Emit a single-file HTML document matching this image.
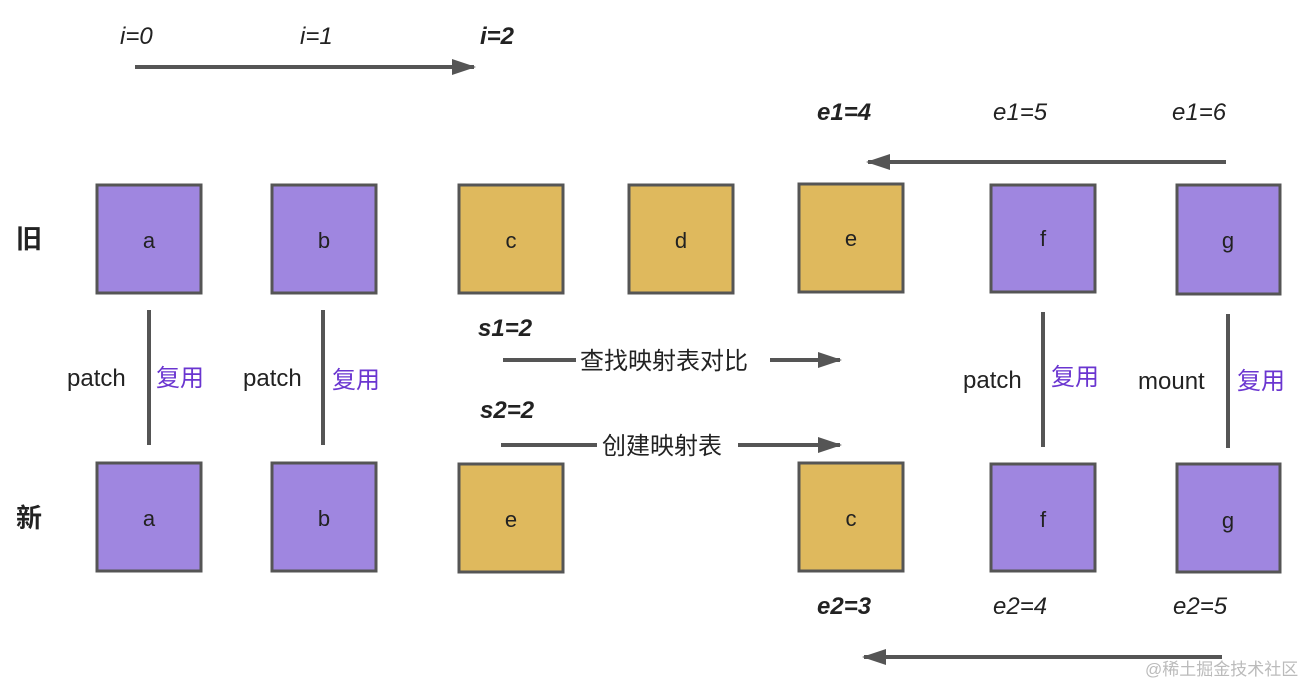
<!DOCTYPE html>
<html><head><meta charset="utf-8"><style>
html,body{margin:0;padding:0;background:#fff}
svg text{font-family:"Liberation Sans","Noto Sans CJK SC",sans-serif}
</style></head><body>
<svg width="1311" height="686" viewBox="0 0 1311 686" xmlns="http://www.w3.org/2000/svg">
<defs><marker id="ah" markerWidth="12" markerHeight="12" refX="10" refY="6" orient="auto" markerUnits="userSpaceOnUse"><path d="M0,0 L22,6 L0,12 Z" fill="#555" transform="scale(0.55,1)"/></marker>
<marker id="a2" markerWidth="24" markerHeight="16" refX="22" refY="8" orient="auto" markerUnits="userSpaceOnUse"><path d="M0,0 L24,8 L0,16 Z" fill="#555"/></marker></defs>
<g fill="#222" font-size="24" font-style="italic">
<text x="120" y="44">i=0</text><text x="300" y="44">i=1</text><text x="480" y="44" font-weight="bold">i=2</text>
<text x="817" y="120" font-weight="bold">e1=4</text><text x="993" y="120">e1=5</text><text x="1172" y="120">e1=6</text>
<text x="478" y="336" font-weight="bold">s1=2</text><text x="480" y="418" font-weight="bold">s2=2</text>
<text x="817" y="614" font-weight="bold">e2=3</text><text x="993" y="614">e2=4</text><text x="1173" y="614">e2=5</text>
</g>
<g stroke="#555" stroke-width="4" fill="none">
<line x1="135" y1="67" x2="474" y2="67" marker-end="url(#a2)" stroke-width="4"/>
<line x1="1226" y1="162" x2="868" y2="162" marker-end="url(#a2)"/>
<line x1="503" y1="360" x2="576" y2="360"/><line x1="770" y1="360" x2="840" y2="360" marker-end="url(#a2)"/>
<line x1="501" y1="445" x2="597" y2="445"/><line x1="738" y1="445" x2="840" y2="445" marker-end="url(#a2)"/>
<line x1="1222" y1="657" x2="864" y2="657" marker-end="url(#a2)"/>
<line x1="149" y1="310" x2="149" y2="445"/><line x1="323" y1="310" x2="323" y2="445"/>
<line x1="1043" y1="312" x2="1043" y2="447"/><line x1="1228" y1="314" x2="1228" y2="448"/>
</g>
<g font-size="24" fill="#222">
<text x="580" y="369">查找映射表对比</text><text x="602" y="454">创建映射表</text>
<text x="67" y="386">patch</text><text x="243" y="386">patch</text><text x="963" y="388">patch</text><text x="1138" y="389">mount</text>
</g>
<g font-size="24" fill="#6a35d0"><text x="156" y="386">复用</text><text x="332" y="388">复用</text><text x="1051" y="385">复用</text><text x="1237" y="389">复用</text></g>
<g font-size="26" font-weight="bold" fill="#222"><text x="16" y="248">旧</text><text x="16" y="527">新</text></g>
<g stroke="#555" stroke-width="3">
<rect x="97" y="185" width="104" height="108" fill="#9f86e0"/>
<rect x="272" y="185" width="104" height="108" fill="#9f86e0"/>
<rect x="459" y="185" width="104" height="108" fill="#dfb95d"/>
<rect x="629" y="185" width="104" height="108" fill="#dfb95d"/>
<rect x="799" y="184" width="104" height="108" fill="#dfb95d"/>
<rect x="991" y="185" width="104" height="107" fill="#9f86e0"/>
<rect x="1177" y="185" width="103" height="109" fill="#9f86e0"/>
<rect x="97" y="463" width="104" height="108" fill="#9f86e0"/>
<rect x="272" y="463" width="104" height="108" fill="#9f86e0"/>
<rect x="459" y="464" width="104" height="108" fill="#dfb95d"/>
<rect x="799" y="463" width="104" height="108" fill="#dfb95d"/>
<rect x="991" y="464" width="104" height="107" fill="#9f86e0"/>
<rect x="1177" y="464" width="103" height="108" fill="#9f86e0"/>
</g>
<g font-size="22" fill="#222" text-anchor="middle">
<text x="149" y="248">a</text><text x="324" y="248">b</text><text x="511" y="248">c</text><text x="681" y="248">d</text><text x="851" y="246">e</text><text x="1043" y="246">f</text><text x="1228" y="248">g</text>
<text x="149" y="526">a</text><text x="324" y="526">b</text><text x="511" y="527">e</text><text x="851" y="526">c</text><text x="1043" y="527">f</text><text x="1228" y="528">g</text>
</g>
<text x="1145" y="675" font-size="17" fill="#bbb">@稀土掘金技术社区</text>
</svg>
</body></html>
